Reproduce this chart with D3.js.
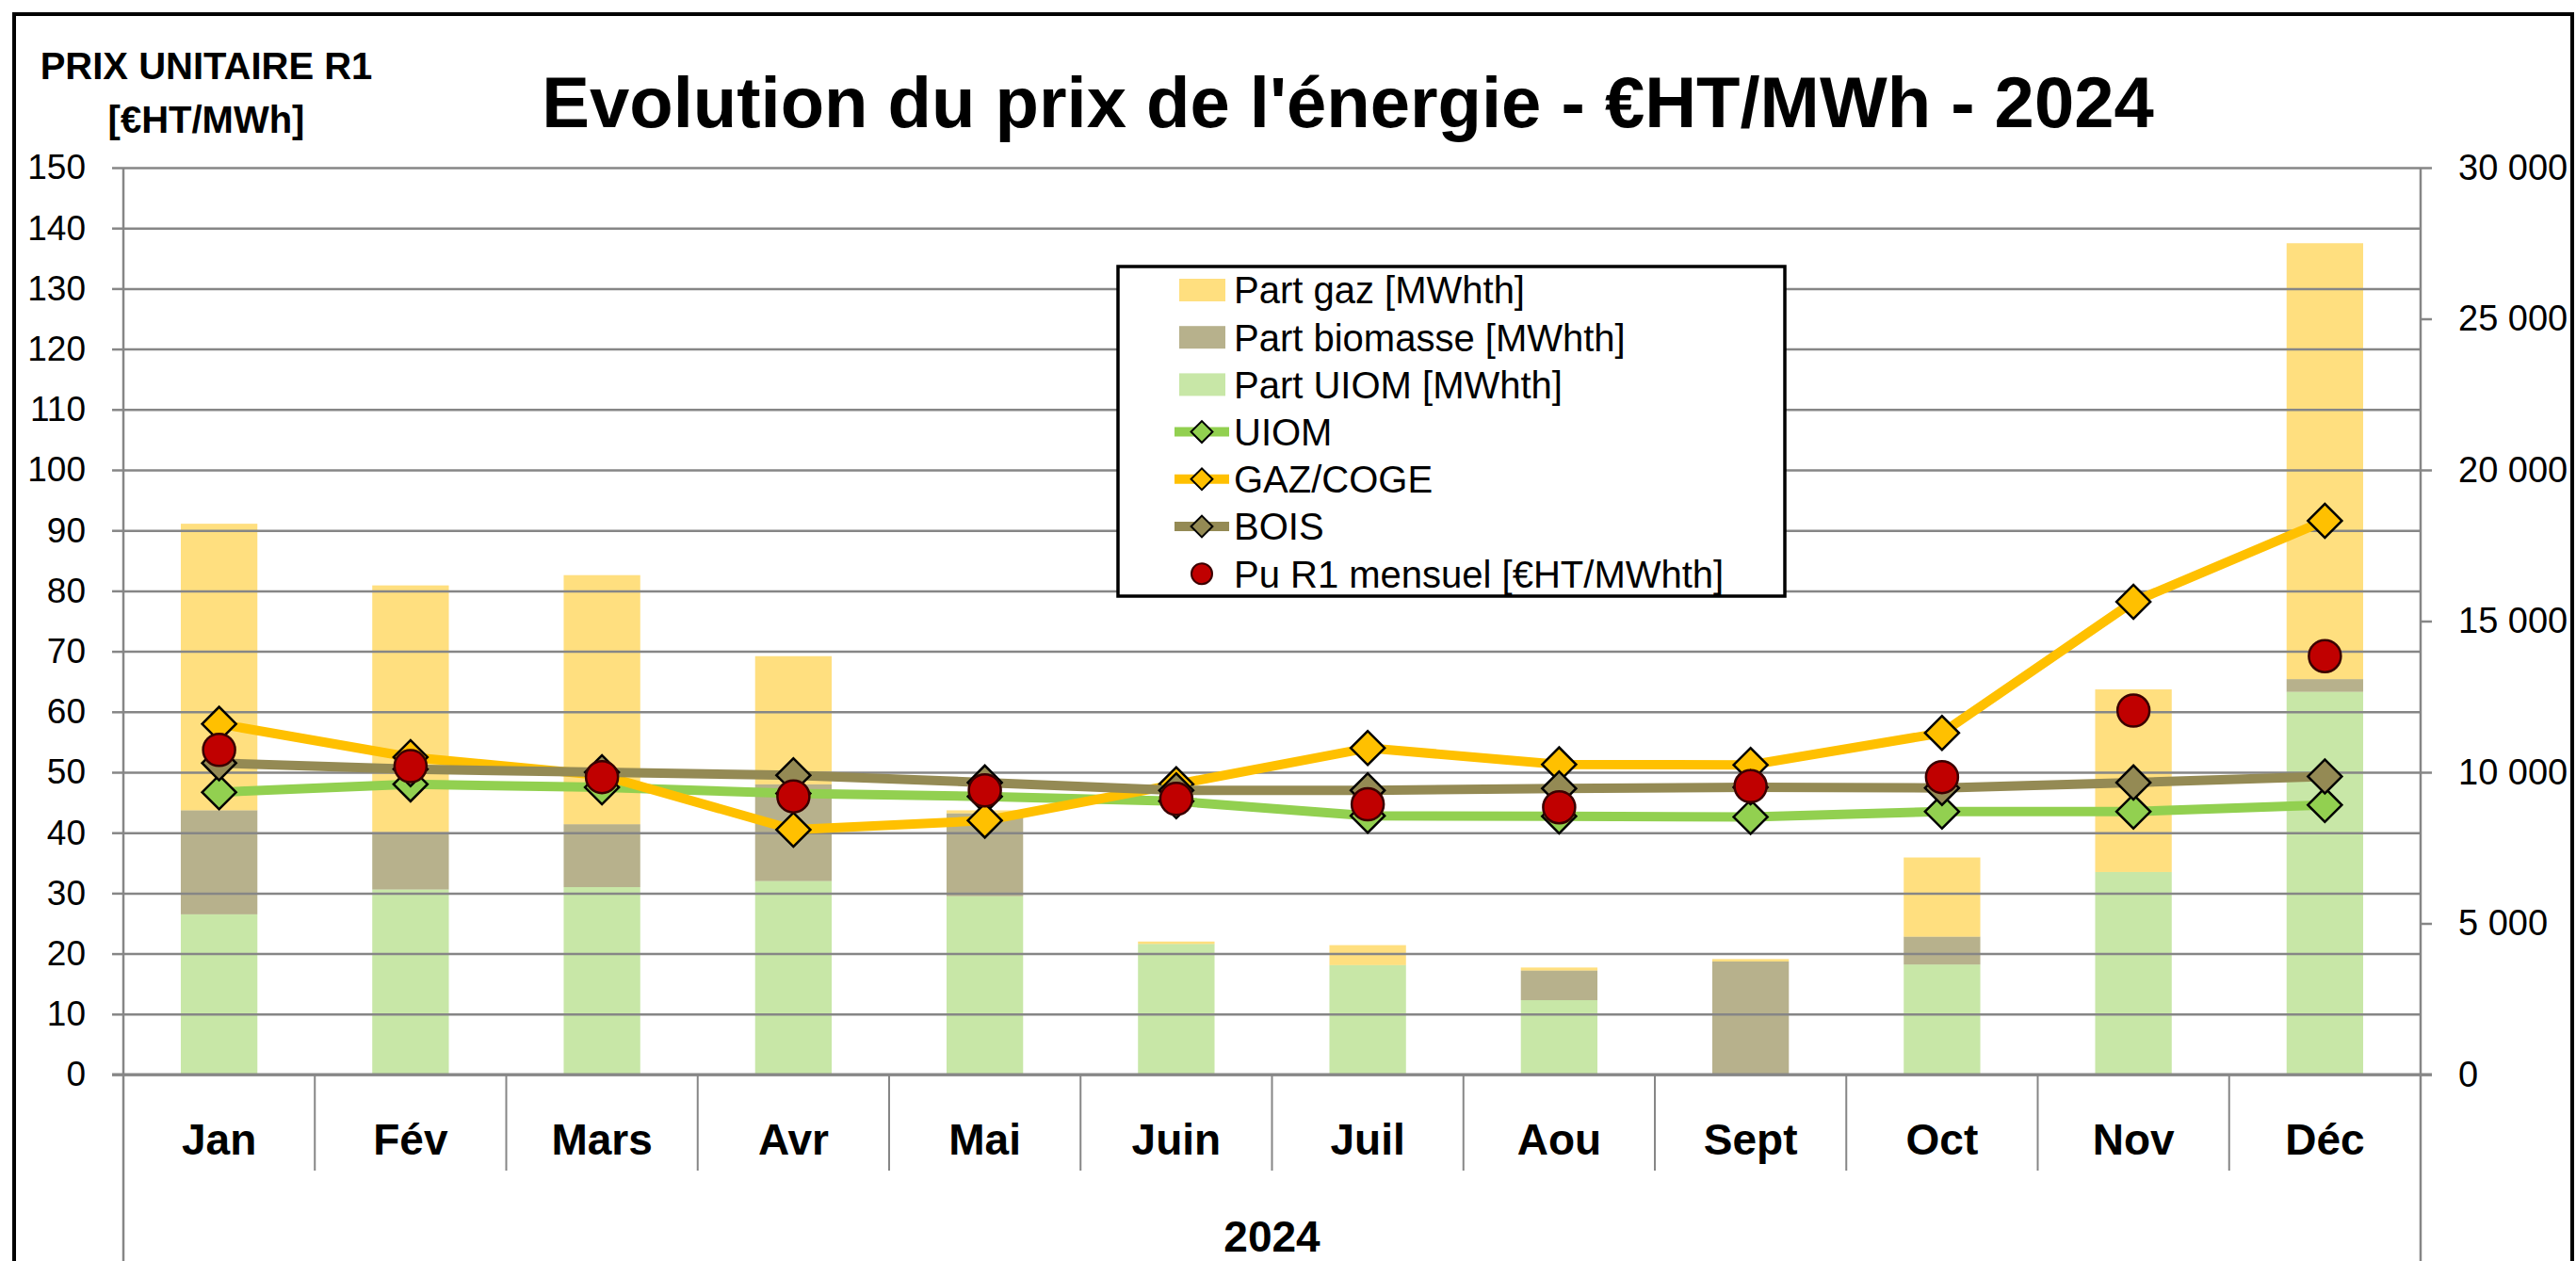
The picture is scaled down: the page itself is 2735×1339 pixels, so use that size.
<!DOCTYPE html>
<html>
<head>
<meta charset="utf-8">
<script src="https://cdn.jsdelivr.net/npm/d3@7"></script>
<style>
  body { margin: 0; background: #fff; }
  svg { display: block; font-family: "Liberation Sans", Arial, sans-serif; }
  .axis path { display: none; }
  .axis line { stroke: #868686; stroke-width: 2.5; }
  .grid line { stroke: #868686; stroke-width: 2.5; }
  .grid path { display: none; }
</style>
</head>
<body>
<svg width="2735" height="1339"></svg>
<script>
// months on the x axis
var months = ["Jan", "Fév", "Mars", "Avr", "Mai", "Juin", "Juil", "Aou", "Sept", "Oct", "Nov", "Déc"];

// stacked bars, right axis [MWhth]
var partUiom      = [5300, 6120, 6200, 6400, 5900, 4320, 3620, 2460, 0, 3640, 6700, 12660];
var partBiomasse  = [3440, 1900, 2080, 3200, 2740, 0, 0, 980, 3740, 920, 0, 420];
var partGaz       = [9480, 8160, 8240, 4240, 100, 80, 660, 100, 80, 2620, 6040, 14420];

// price lines, left axis [€HT/MWh]
var prixUiom = [46.7, 48, 47.5, 46.5, 46, 45.2, 42.8, 42.7, 42.6, 43.5, 43.5, 44.6];
var prixGaz  = [58, 52.5, 49.5, 40.5, 42, 48, 54, 51.3, 51.2, 56.5, 78.2, 91.6];
var prixBois = [51.5, 50.5, 50, 49.5, 48.3, 47, 47, 47.3, 47.5, 47.4, 48.3, 49.3];
var puR1     = [53.7, 51, 49.2, 46, 47, 45.6, 44.7, 44.2, 47.7, 49.2, 60.2, 69.2];

var leftTicks = d3.range(0, 151, 10);
var rightTicks = d3.range(0, 30001, 5000);

var svg = d3.select("svg"),
    margin = {top: 178, right: 165, bottom: 198, left: 131},
    width = 2735 - margin.left - margin.right,
    height = 1339 - margin.top - margin.bottom;

var x = d3.scaleBand().domain(months).range([0, width]).paddingInner(0.6).paddingOuter(0.3),
    y = d3.scaleLinear().domain([0, 150]).range([height, 0]),
    y2 = d3.scaleLinear().domain([0, 30000]).range([height, 0]);

var cx = function(m) { return x(m) + x.bandwidth() / 2; };

// outer frame of the chart
svg.append("rect")
    .attr("x", 15).attr("y", 15)
    .attr("width", 2716).attr("height", 1400)
    .attr("fill", "none").attr("stroke", "#000").attr("stroke-width", 4);

svg.append("text")
    .attr("x", 1431).attr("y", 135)
    .attr("text-anchor", "middle")
    .attr("font-size", 76).attr("font-weight", "bold")
    .text("Evolution du prix de l'énergie - €HT/MWh - 2024");

var yTitle = svg.append("text")
    .attr("text-anchor", "middle")
    .attr("font-size", 40).attr("font-weight", "bold");
yTitle.append("tspan").attr("x", 219).attr("y", 84).text("PRIX UNITAIRE R1");
yTitle.append("tspan").attr("x", 219).attr("y", 141).text("[€HT/MWh]");

var g = svg.append("g")
    .attr("transform", "translate(" + margin.left + "," + margin.top + ")");

// bars first, gridlines show through them
var series = [
  {key: "uiom", values: partUiom, color: "#92D050", opacity: 0.5},
  {key: "bio", values: partBiomasse, color: "#948A54", opacity: 0.67},
  {key: "gaz", values: partGaz, color: "#FFC000", opacity: 0.5}
];
var table = months.map(function(m, i) {
  return {month: m, uiom: partUiom[i], bio: partBiomasse[i], gaz: partGaz[i]};
});
var stack = d3.stack().keys(series.map(function(s) { return s.key; }))(table);

g.selectAll(".layer")
    .data(stack)
  .enter().append("g")
    .attr("class", "layer")
    .attr("fill", function(d, i) { return series[i].color; })
    .attr("fill-opacity", function(d, i) { return series[i].opacity; })
  .selectAll("rect")
    .data(function(d) { return d; })
  .enter().append("rect")
    .attr("x", function(d) { return x(d.data.month); })
    .attr("width", x.bandwidth())
    .attr("y", function(d) { return y2(d[1]); })
    .attr("height", function(d) { return y2(d[0]) - y2(d[1]); });

g.append("g")
    .attr("class", "grid")
    .call(d3.axisRight(y).tickValues(leftTicks).tickSize(width).tickFormat(""));

g.append("g")
    .attr("class", "axis")
    .call(d3.axisLeft(y).tickValues(leftTicks).tickSize(12).tickPadding(28))
    .selectAll("text").attr("font-size", 37).attr("fill", "#000");

g.append("g")
    .attr("class", "axis")
    .attr("transform", "translate(" + width + ",0)")
    .call(d3.axisRight(y2).tickValues(rightTicks).tickSize(12).tickPadding(28)
      .tickFormat(function(d) { return d3.format(",")(d).replace(/,/g, " "); }))
    .selectAll("text").attr("font-size", 38).attr("fill", "#000");

// vertical axis lines, running down past the category labels
[0, width].forEach(function(px) {
  g.append("line")
      .attr("x1", px).attr("x2", px)
      .attr("y1", 0).attr("y2", height + margin.bottom)
      .attr("stroke", "#868686").attr("stroke-width", 2.5);
});

// category separators under the axis
var bounds = months.slice(1).map(function(m) { return cx(m) - x.step() / 2; });
g.selectAll(".sep")
    .data(bounds)
  .enter().append("line")
    .attr("class", "sep")
    .attr("x1", function(d) { return d; }).attr("x2", function(d) { return d; })
    .attr("y1", height).attr("y2", height + 102)
    .attr("stroke", "#868686").attr("stroke-width", 2);

g.append("g")
    .attr("class", "axis")
    .attr("transform", "translate(0," + height + ")")
    .call(d3.axisBottom(x).tickSize(0).tickPadding(52))
    .selectAll("text")
    .attr("font-size", 46).attr("font-weight", "bold").attr("fill", "#000");

g.append("line")
    .attr("x1", -12).attr("x2", width + 12)
    .attr("y1", height).attr("y2", height)
    .attr("stroke", "#868686").attr("stroke-width", 3);

svg.append("text")
    .attr("x", margin.left + width / 2).attr("y", 1329)
    .attr("text-anchor", "middle")
    .attr("font-size", 46).attr("font-weight", "bold")
    .text("2024");

// price lines with diamond markers
var lines = [
  {name: "UIOM", values: prixUiom, color: "#92D050"},
  {name: "GAZ/COGE", values: prixGaz, color: "#FFC000"},
  {name: "BOIS", values: prixBois, color: "#948A54"}
];

var line = d3.line()
    .x(function(d) { return cx(d.month); })
    .y(function(d) { return y(d.value); });

var diamond = d3.symbol().type(d3.symbolSquare).size(650);

lines.forEach(function(s) {
  var pts = months.map(function(m, i) { return {month: m, value: s.values[i]}; });
  g.append("path")
      .datum(pts)
      .attr("fill", "none")
      .attr("stroke", s.color)
      .attr("stroke-width", 10)
      .attr("stroke-linejoin", "round")
      .attr("d", line);
  g.selectAll(null)
      .data(pts)
    .enter().append("path")
      .attr("d", diamond)
      .attr("transform", function(d) { return "translate(" + cx(d.month) + "," + y(d.value) + ") rotate(45)"; })
      .attr("fill", s.color)
      .attr("stroke", "#000")
      .attr("stroke-width", 2.5);
});

g.selectAll(".pu")
    .data(months.map(function(m, i) { return {month: m, value: puR1[i]}; }))
  .enter().append("circle")
    .attr("class", "pu")
    .attr("cx", function(d) { return cx(d.month); })
    .attr("cy", function(d) { return y(d.value); })
    .attr("r", 17)
    .attr("fill", "#C00000")
    .attr("stroke", "#3a0000")
    .attr("stroke-width", 2.5);

// legend
var legendItems = [
  {label: "Part gaz [MWhth]", type: "bar", color: "#FFC000", opacity: 0.5},
  {label: "Part biomasse [MWhth]", type: "bar", color: "#948A54", opacity: 0.67},
  {label: "Part UIOM [MWhth]", type: "bar", color: "#92D050", opacity: 0.5},
  {label: "UIOM", type: "line", color: "#92D050"},
  {label: "GAZ/COGE", type: "line", color: "#FFC000"},
  {label: "BOIS", type: "line", color: "#948A54"},
  {label: "Pu R1 mensuel [€HT/MWhth]", type: "dot", color: "#C00000"}
];

var legend = svg.append("g");
legend.append("rect")
    .attr("x", 1187).attr("y", 283)
    .attr("width", 708).attr("height", 350)
    .attr("fill", "#fff").attr("stroke", "#000").attr("stroke-width", 3.5);

var rows = legend.selectAll(".row")
    .data(legendItems)
  .enter().append("g")
    .attr("class", "row")
    .attr("transform", function(d, i) { return "translate(1276," + (308 + i * 50.2) + ")"; });

rows.filter(function(d) { return d.type === "bar"; })
  .append("rect")
    .attr("x", -24).attr("y", -12)
    .attr("width", 49).attr("height", 24)
    .attr("fill", function(d) { return d.color; })
    .attr("fill-opacity", function(d) { return d.opacity; });

var lineRows = rows.filter(function(d) { return d.type === "line"; });
lineRows.append("line")
    .attr("x1", -29).attr("x2", 29)
    .attr("stroke", function(d) { return d.color; })
    .attr("stroke-width", 10);
lineRows.append("path")
    .attr("d", d3.symbol().type(d3.symbolSquare).size(260))
    .attr("transform", "rotate(45)")
    .attr("fill", function(d) { return d.color; })
    .attr("stroke", "#000").attr("stroke-width", 2);

rows.filter(function(d) { return d.type === "dot"; })
  .append("circle")
    .attr("r", 11)
    .attr("fill", function(d) { return d.color; })
    .attr("stroke", "#3a0000").attr("stroke-width", 2);

rows.append("text")
    .attr("x", 34).attr("dy", "0.36em")
    .attr("font-size", 40)
    .text(function(d) { return d.label; });
</script>
</body>
</html>
